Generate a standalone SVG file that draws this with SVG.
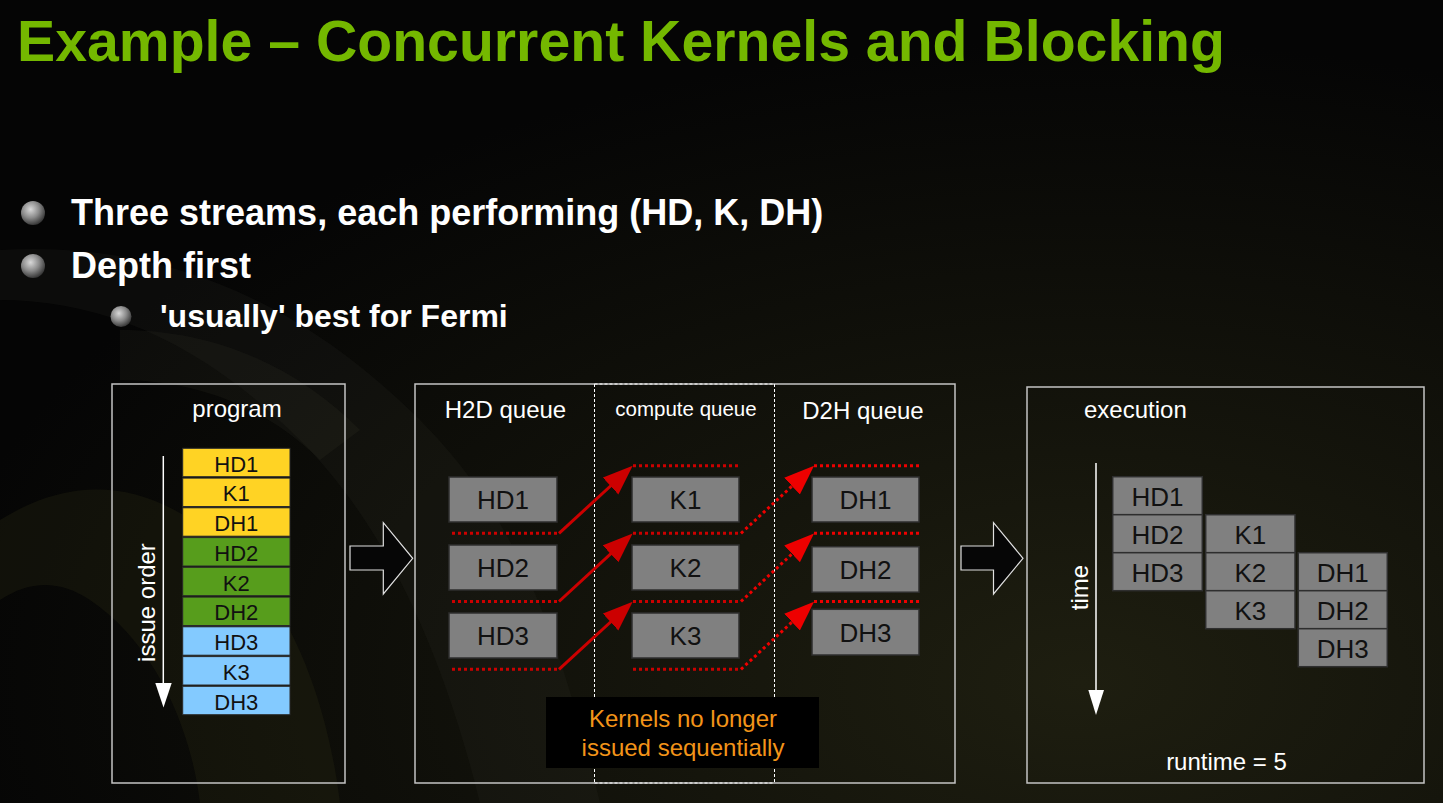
<svg xmlns="http://www.w3.org/2000/svg" width="1443" height="803" viewBox="0 0 1443 803">
<defs>
<style>
.t{font-family:"Liberation Sans",Arial,Helvetica,sans-serif}
.title{font-size:58px;font-weight:bold;fill:#74b800}
.bul{font-size:36px;font-weight:bold;fill:#ffffff}
.sub{font-size:32px;font-weight:bold;fill:#ffffff}
.hdr{font-size:24px;fill:#ffffff}
.frame{fill:none;stroke:#c4c4c4;stroke-width:1.5}
.qb{fill:#808080;stroke:#2e2e2e;stroke-width:1.5}
.qt{font-size:26px;fill:#111111;text-anchor:middle}
.pt{font-size:22px;fill:#111111;text-anchor:middle}
.y{fill:#ffd324;stroke:#2a2a2a;stroke-width:1}
.g{fill:#579d1c;stroke:#2a2a2a;stroke-width:1}
.b{fill:#83caff;stroke:#2a2a2a;stroke-width:1}
.dash{stroke:#ffffff;stroke-width:1;stroke-dasharray:3 2;fill:none}
.dk{stroke:#cc0000;stroke-width:3;stroke-dasharray:3 3;fill:none}
.db{stroke:#ee0000;stroke-width:3;stroke-dasharray:3 3;fill:none}
.sa{stroke:#cc0000;stroke-width:3;fill:none}
.bigarrow{fill:#060606;stroke:#e0e0e0;stroke-width:1.2}
</style>
<radialGradient id="sphere" cx="0.4" cy="0.35" r="0.65">
<stop offset="0" stop-color="#d8d8d8"/>
<stop offset="0.55" stop-color="#8a8a8a"/>
<stop offset="1" stop-color="#3a3a3a"/>
</radialGradient>
<radialGradient id="bgglow" cx="0.75" cy="0.85" r="0.8">
<stop offset="0" stop-color="#1e1e10"/>
<stop offset="1" stop-color="#050505"/>
</radialGradient>
<marker id="ahS" markerUnits="userSpaceOnUse" markerWidth="32" markerHeight="26" refX="20" refY="12" orient="auto">
<path d="M0,0.5 L30,12 L0,23.5 Z" fill="#cc0000"/>
</marker>
<marker id="ahB" markerUnits="userSpaceOnUse" markerWidth="32" markerHeight="26" refX="20" refY="12" orient="auto">
<path d="M0,0.5 L30,12 L0,23.5 Z" fill="#ee0000"/>
</marker>
</defs>

<!-- background -->
<rect x="0" y="0" width="1443" height="803" fill="url(#bgglow)"/>
<path d="M0,250 C160,240 300,300 420,420 C520,520 560,640 600,803 L480,803 C440,640 380,520 300,440 C200,340 100,300 0,300 Z" fill="#3a3a32" opacity="0.14"/>
<path d="M0,520 C80,470 160,480 240,560 C300,620 330,720 340,803 L200,803 C190,720 150,640 90,600 C60,580 30,580 0,600 Z" fill="#2a2a14" opacity="0.3"/>
<path d="M120,330 C220,330 300,370 360,430 L320,460 C270,410 200,380 120,380 Z" fill="#555548" opacity="0.1"/>

<!-- title and bullets -->
<text class="t title" x="17" y="61" textLength="1208" lengthAdjust="spacingAndGlyphs">Example – Concurrent Kernels and Blocking</text>
<circle cx="33" cy="213" r="12" fill="url(#sphere)"/>
<text class="t bul" x="71" y="225">Three streams, each performing (HD, K, DH)</text>
<circle cx="33" cy="266" r="12" fill="url(#sphere)"/>
<text class="t bul" x="71" y="278">Depth first</text>
<circle cx="121" cy="316.5" r="10.5" fill="url(#sphere)"/>
<text class="t sub" x="160" y="327">'usually' best for Fermi</text>

<!-- program panel -->
<g id="program">
<rect class="frame" x="112" y="384" width="233" height="399" fill="#0a0a06" fill-opacity="0.35"/>
<text class="t hdr" x="237" y="417" text-anchor="middle">program</text>
<line x1="163.3" y1="456" x2="163.3" y2="690" stroke="#ffffff" stroke-width="1.5"/>
<path d="M155.3,683 L171.7,683 L163.5,707.5 Z" fill="#ffffff"/>
<text class="t hdr" x="155" y="602.5" text-anchor="middle" transform="rotate(-90 155 602.5)">issue order</text>
</g>
<g id="prog-HD1"><rect class="y" x="182.7" y="448.3" width="107.3" height="28.4"/><text class="t pt" x="236.3" y="471.5">HD1</text></g>
<g id="prog-K1"><rect class="y" x="182.7" y="478.1" width="107.3" height="28.4"/><text class="t pt" x="236.3" y="501.3">K1</text></g>
<g id="prog-DH1"><rect class="y" x="182.7" y="507.8" width="107.3" height="28.4"/><text class="t pt" x="236.3" y="531">DH1</text></g>
<g id="prog-HD2"><rect class="g" x="182.7" y="537.6" width="107.3" height="28.4"/><text class="t pt" x="236.3" y="560.8">HD2</text></g>
<g id="prog-K2"><rect class="g" x="182.7" y="567.3" width="107.3" height="28.4"/><text class="t pt" x="236.3" y="590.5">K2</text></g>
<g id="prog-DH2"><rect class="g" x="182.7" y="597.1" width="107.3" height="28.4"/><text class="t pt" x="236.3" y="620.3">DH2</text></g>
<g id="prog-HD3"><rect class="b" x="182.7" y="626.8" width="107.3" height="28.4"/><text class="t pt" x="236.3" y="650">HD3</text></g>
<g id="prog-K3"><rect class="b" x="182.7" y="656.6" width="107.3" height="28.4"/><text class="t pt" x="236.3" y="679.8">K3</text></g>
<g id="prog-DH3"><rect class="b" x="182.7" y="686.3" width="107.3" height="28.4"/><text class="t pt" x="236.3" y="709.5">DH3</text></g>

<!-- big hollow arrows -->
<g id="arrow1"><path class="bigarrow" d="M350,546 L383.3,546 L383.3,522.7 L412.7,558.3 L383.3,594 L383.3,570 L350,570 Z"/></g>
<g id="arrow2"><path class="bigarrow" d="M961,546 L993.5,546 L993.5,522.7 L1023,558.3 L993.5,594 L993.5,570 L961,570 Z"/></g>

<!-- queues panel -->
<g id="queues">
<rect class="frame" x="415" y="384" width="540" height="399" fill="#121209" fill-opacity="0.8"/>
<line class="dash" x1="594.5" y1="384" x2="594.5" y2="783"/>
<line class="dash" x1="774.5" y1="384" x2="774.5" y2="783"/>
<line class="dash" x1="594.5" y1="384" x2="774.5" y2="384"/>
<line class="dash" x1="594.5" y1="783" x2="774.5" y2="783"/>
<text class="t hdr" x="505.5" y="418" text-anchor="middle">H2D queue</text>
<text class="t" x="686" y="416" font-size="20.5" fill="#ffffff" text-anchor="middle">compute queue</text>
<text class="t hdr" x="863" y="418.5" text-anchor="middle">D2H queue</text>
</g>
<g id="q-HD1"><rect class="qb" x="449" y="477" width="108" height="45"/><text class="t qt" x="503" y="509">HD1</text></g>
<g id="q-HD2"><rect class="qb" x="449" y="545" width="108" height="45"/><text class="t qt" x="503" y="577">HD2</text></g>
<g id="q-HD3"><rect class="qb" x="449" y="613" width="108" height="45"/><text class="t qt" x="503" y="645">HD3</text></g>
<g id="q-K1"><rect class="qb" x="632" y="477" width="107" height="45"/><text class="t qt" x="685.5" y="509">K1</text></g>
<g id="q-K2"><rect class="qb" x="632" y="545" width="107" height="45"/><text class="t qt" x="685.5" y="577">K2</text></g>
<g id="q-K3"><rect class="qb" x="632" y="613" width="107" height="45"/><text class="t qt" x="685.5" y="645">K3</text></g>
<g id="q-DH1"><rect class="qb" x="812" y="477" width="107" height="45"/><text class="t qt" x="865.5" y="509">DH1</text></g>
<g id="q-DH2"><rect class="qb" x="812" y="546.7" width="107" height="45.5"/><text class="t qt" x="865.5" y="579">DH2</text></g>
<g id="q-DH3"><rect class="qb" x="812" y="609.3" width="107" height="45.7"/><text class="t qt" x="865.5" y="641.5">DH3</text></g>

<g id="connectors">
<line class="dk" x1="452" y1="533.3" x2="559" y2="533.3"/>
<line class="dk" x1="452" y1="601.5" x2="559" y2="601.5"/>
<line class="dk" x1="452" y1="669.3" x2="559" y2="669.3"/>
<line class="sa" x1="559" y1="533.3" x2="625.3" y2="472.5" marker-end="url(#ahS)"/>
<line class="sa" x1="559" y1="601.5" x2="625.3" y2="540.3" marker-end="url(#ahS)"/>
<line class="sa" x1="559" y1="669.3" x2="625.3" y2="608.5" marker-end="url(#ahS)"/>
<line class="dk" x1="633" y1="465.7" x2="740" y2="465.7"/>
<line class="dk" x1="633" y1="533.3" x2="740" y2="533.3"/>
<line class="dk" x1="633" y1="601.5" x2="740" y2="601.5"/>
<line class="dk" x1="633" y1="669.3" x2="740" y2="669.3"/>
<line class="db" x1="741" y1="533.3" x2="806.7" y2="472.5" marker-end="url(#ahB)"/>
<line class="db" x1="741" y1="601.5" x2="806.7" y2="540.3" marker-end="url(#ahB)"/>
<line class="db" x1="741" y1="669.3" x2="806.7" y2="608.5" marker-end="url(#ahB)"/>
<line class="db" x1="814" y1="465.7" x2="922" y2="465.7"/>
<line class="db" x1="814" y1="533.3" x2="922" y2="533.3"/>
<line class="db" x1="814" y1="601.5" x2="922" y2="601.5"/>
</g>

<g id="note">
<rect x="546" y="697" width="273" height="71" fill="#000000"/>
<text class="t" x="683" y="727" font-size="24" fill="#f39419" text-anchor="middle">Kernels no longer</text>
<text class="t" x="683" y="756" font-size="24" fill="#f39419" text-anchor="middle">issued sequentially</text>
</g>

<!-- execution panel -->
<g id="execution">
<rect class="frame" x="1027" y="387" width="397" height="396" fill="#121209" fill-opacity="0.85"/>
<text class="t hdr" x="1084" y="418">execution</text>
<line x1="1096" y1="463" x2="1096" y2="695" stroke="#ffffff" stroke-width="1.5"/>
<path d="M1088.3,690 L1104,690 L1096,715 Z" fill="#ffffff"/>
<text class="t hdr" x="1088" y="587.5" text-anchor="middle" transform="rotate(-90 1088 587.5)">time</text>
<text class="t hdr" x="1226.5" y="769.5" text-anchor="middle">runtime = 5</text>
</g>
<g id="e-HD1"><rect class="qb" x="1112.7" y="476.7" width="89.6" height="38"/><text class="t qt" x="1157.5" y="505.5">HD1</text></g>
<g id="e-HD2"><rect class="qb" x="1112.7" y="514.7" width="89.6" height="38"/><text class="t qt" x="1157.5" y="543.5">HD2</text></g>
<g id="e-HD3"><rect class="qb" x="1112.7" y="552.7" width="89.6" height="38"/><text class="t qt" x="1157.5" y="581.5">HD3</text></g>
<g id="e-K1"><rect class="qb" x="1205.7" y="514.7" width="89.3" height="38"/><text class="t qt" x="1250.3" y="543.5">K1</text></g>
<g id="e-K2"><rect class="qb" x="1205.7" y="552.7" width="89.3" height="38"/><text class="t qt" x="1250.3" y="581.5">K2</text></g>
<g id="e-K3"><rect class="qb" x="1205.7" y="590.7" width="89.3" height="38"/><text class="t qt" x="1250.3" y="619.5">K3</text></g>
<g id="e-DH1"><rect class="qb" x="1298.3" y="552.7" width="89" height="38"/><text class="t qt" x="1342.8" y="581.5">DH1</text></g>
<g id="e-DH2"><rect class="qb" x="1298.3" y="590.7" width="89" height="38"/><text class="t qt" x="1342.8" y="619.5">DH2</text></g>
<g id="e-DH3"><rect class="qb" x="1298.3" y="628.7" width="89" height="38"/><text class="t qt" x="1342.8" y="657.5">DH3</text></g>
</svg>
